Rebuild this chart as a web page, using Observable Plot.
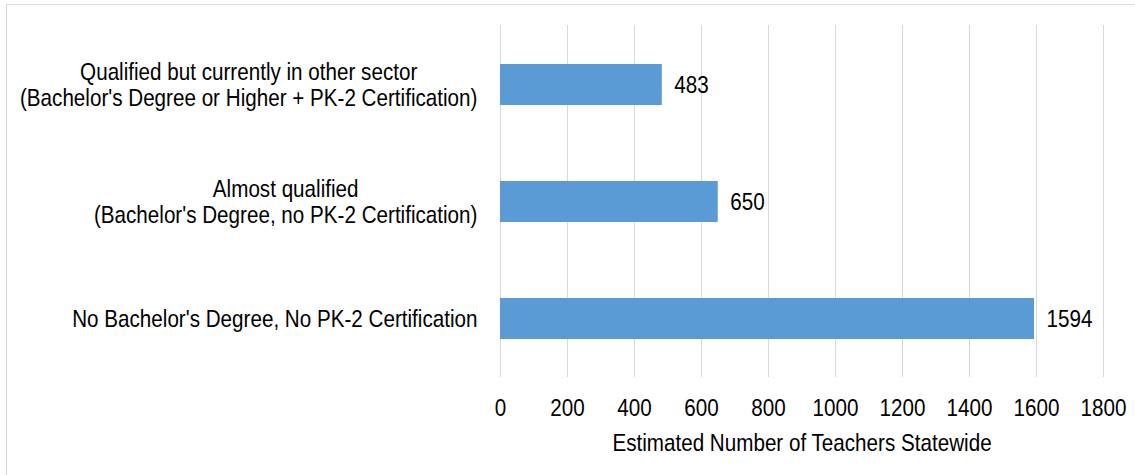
<!DOCTYPE html>
<html>
<head>
<meta charset="utf-8">
<script src="https://cdn.jsdelivr.net/npm/d3@7"></script>
<script src="https://cdn.jsdelivr.net/npm/@observablehq/plot@0.6"></script>
<style>
  html, body { margin: 0; padding: 0; background: #fff; }
  #wrap { position: relative; width: 1135px; height: 475px; overflow: hidden; }
  #border { position: absolute; left: 6px; top: 4px; width: 1140px; height: 480px; border: 1.5px solid #d9d9d9; box-sizing: border-box; }
  #chart { position: absolute; left: 0; top: 0; }
</style>
</head>
<body>
<div id="wrap"><div id="border"></div><div id="chart"></div></div>
<script>
const categories = [
  "Qualified but currently in other sector\n(Bachelor's Degree or Higher + PK-2 Certification)",
  "Almost qualified\n(Bachelor's Degree, no PK-2 Certification)",
  "No Bachelor's Degree, No PK-2 Certification"
];
const values = [483, 650, 1594];
const xTicks = [0, 200, 400, 600, 800, 1000, 1200, 1400, 1600, 1800];
const xTitle = "Estimated Number of Teachers Statewide";

const data = categories.map((c, i) => ({category: c, value: values[i]}));
const FONT = "'Liberation Sans', Arial, sans-serif";
const FS = 24;
const NARROW = 0.86; // emulate a narrow sans face

const chart = Plot.plot({
  width: 1135,
  height: 475,
  marginLeft: 500,
  marginRight: 32,
  marginTop: 25,
  marginBottom: 98,
  style: {fontFamily: FONT, fontSize: FS + "px", color: "#000", background: "transparent"},
  x: {domain: [0, 1800], ticks: xTicks},
  y: {domain: categories, paddingInner: 0.65, paddingOuter: 0.325},
  marks: [
    Plot.gridX(xTicks, {stroke: "#d9d9d9", strokeOpacity: 1, strokeWidth: 1}),
    Plot.barX(data, {x: "value", y: "category", fill: "#5B9BD5"}),
    Plot.text(data, {x: "value", y: "category", text: d => String(d.value), textAnchor: "start", dx: 12, fill: "#000", fontSize: FS}),
    Plot.axisX({ticks: xTicks, tickFormat: d => String(d), tickSize: 0, tickPadding: 21, fontSize: FS, label: xTitle, labelAnchor: "center", labelArrow: "none", labelOffset: 73}),
    Plot.axisY({tickSize: 0, tickPadding: 23, fontSize: FS, label: null, lineHeight: 1.05})
  ]
});
document.getElementById("chart").appendChild(chart);

// Center multi-line category labels within their own block (right edge fixed)
chart.querySelectorAll("g[aria-label='y-axis tick label'] text").forEach(t => {
  const spans = t.querySelectorAll("tspan");
  if (spans.length < 2) return;
  let maxW = 0;
  spans.forEach(s => { maxW = Math.max(maxW, s.getComputedTextLength()); });
  t.setAttribute("text-anchor", "middle");
  spans.forEach(s => s.setAttribute("x", -maxW / 2));
});

// Horizontally condense all texts around their anchor point
chart.querySelectorAll("text").forEach(t => {
  let tr = t.getAttribute("transform") || "";
  const x = t.getAttribute("x");
  if (x != null && isFinite(+x)) {
    tr += ` translate(${+x},0)`;
    t.removeAttribute("x");
  }
  t.setAttribute("transform", `${tr} scale(${NARROW},1)`);
});
</script>
</body>
</html>
